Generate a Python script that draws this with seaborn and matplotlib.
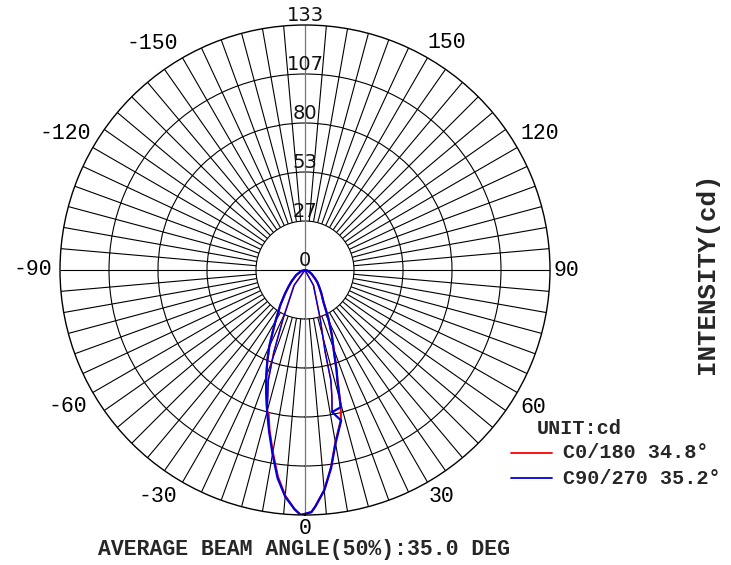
import numpy as np
import matplotlib
matplotlib.use("Agg")
import matplotlib.pyplot as plt
import seaborn as sns
from matplotlib.lines import Line2D

# --- data (angles in degrees, intensity in cd) ---
ring_values = [26.6, 53.2, 79.8, 106.4, 133.0]
ring_labels = ["27", "53", "80", "107", "133"]
angle_labels = [0, 30, 60, 90, 120, 150, -150, -120, -90, -60, -30]

c0_angle = [-90, -75, -60, -50, -45, -40, -35, -30, -27.5, -25, -22.5, -20, -17.5, -15,
            -14.2, -12.5, -10, -7.5, -5, -2.5, -1, 1.5, 2.5, 5, 7.5, 10, 12.5, 13.5, 14.6,
            16.4, 17.5, 19.5, 22.5, 25.8, 30, 35, 40, 45, 50, 60, 75, 90]
c0_cd = [0, 2, 5.5, 9.5, 12.5, 17, 23.5, 32, 38, 46, 53.5, 61.5, 70, 79.5,
         80.5, 89, 100.5, 113, 123, 130, 133, 131.5, 128.5, 120, 108, 95, 86.5, 83.5, 77,
         62.5, 57, 47.1, 38, 29.1, 20, 15.5, 12, 9.5, 7, 4, 1.5, 0]

c90_angle = [-90, -75, -60, -50, -45, -40, -35, -30, -27.5, -25, -22.5, -20, -17.5, -15,
             -12.5, -10, -7.5, -5, -2.5, -1, 1.5, 2.5, 5, 7.5, 10, 12.5, 13.5, 10.8, 14.6,
             16.4, 17.5, 19.5, 22.5, 25.8, 30, 35, 40, 45, 50, 60, 75, 90]
c90_cd = [0, 2, 5.5, 9.5, 12.5, 17, 23.5, 32, 38, 46, 53.5, 61.5, 70, 79.5,
          90, 101.5, 114, 123.5, 130, 133, 131.5, 128.5, 120, 108.5, 95.5, 87, 84, 78.5, 77,
          62.2, 57, 47.1, 38, 29.1, 20, 15.5, 12, 9.5, 7, 4, 1.5, 0]

# inner traces (left and right) for both planes
inner_left_angle = [-35.5, -35.5, -24.2, -20.8, -18.4, -16.5, -15]
c0_inner_left_cd = [0, 10.5, 29.5, 48, 63.5, 71.5, 79.5]
c90_inner_left_cd = [0, 10, 28.8, 47.4, 63, 71, 79.5]
inner_right_angle = [29, 29, 17.3, 13.8, 13.2, 12, 10.8]
c0_inner_right_cd = [0, 9.8, 28, 46.2, 61.8, 70.5, 78.5]
c90_inner_right_cd = [0, 9.3, 27.5, 45.7, 61.3, 70, 78.5]

legend_names = ["C0/180 34.8°", "C90/270 35.2°"]
RED = "#ff0000"
BLUE = "#0000dd"
MONO = "Liberation Mono"

# where the angle labels sit: (direction in deg, distance from centre in px)
label_place = {0: (0, 259), 30: (31.1, 265), 60: (59, 266), 90: (90, 261),
               120: (120.2, 272), 150: (148, 268), -150: (-146, 273),
               -120: (-119.7, 276), -90: (-90, 272), -60: (-60, 274), -30: (-33, 270)}
R_PX = 245.0

sns.set_style("white")

W, H = 731, 565
fig = plt.figure(figsize=(W / 100, H / 100), dpi=100)
ax = fig.add_axes([60 / W, 50 / H, 490 / W, 490 / H], projection="polar")
ax.set_theta_zero_location("S")
ax.set_theta_direction(1)
ax.set_ylim(0, 133)
ax.set_xticks([])
ax.set_yticks(ring_values[:-1])
ax.set_yticklabels([])
ax.yaxis.grid(True, color="black", linewidth=0.8)
ax.xaxis.grid(False)
ax.spines["polar"].set_color("black")
ax.spines["polar"].set_linewidth(1.0)
ax.set_facecolor("white")

# spokes every 5 degrees, starting at the first ring
spokes = np.arange(0, 360, 5)
minor = [a for a in spokes if a % 90 != 0]
ax.vlines(np.deg2rad(minor), ring_values[0], 133, colors="black", linewidth=0.8)
ax.vlines(np.deg2rad([90, 270]), 0, 133, colors="black", linewidth=0.8)
ax.vlines(np.deg2rad([0, 180]), 0, 133, colors="#777777", linewidth=0.9)

# radial labels on the top spoke
ax.text(np.pi, 0, "0", ha="center", va="bottom", fontsize=14, color="#111111",
        family="DejaVu Sans")
for r, lab in zip(ring_values, ring_labels):
    ax.text(np.pi, r, lab, ha="center", va="bottom", fontsize=14, color="#111111",
            family="DejaVu Sans")

# angle labels around the outside
for a in angle_labels:
    th, rho = label_place[a]
    ax.text(np.deg2rad(th), rho / R_PX * 133, str(a), ha="center", va="center",
            fontsize=15.5, family=MONO, color="black", clip_on=False)

# curves
def trace(angles, values, color, lw):
    sns.lineplot(x=np.deg2rad(angles), y=values, ax=ax, sort=False, estimator=None,
                 color=color, linewidth=lw, legend=False)

trace(inner_left_angle, c0_inner_left_cd, RED, 1.0)
trace(inner_right_angle, c0_inner_right_cd, RED, 1.0)
trace(c0_angle, c0_cd, RED, 1.5)
trace(inner_left_angle, c90_inner_left_cd, BLUE, 1.0)
trace(inner_right_angle, c90_inner_right_cd, BLUE, 1.0)
trace(c90_angle, c90_cd, BLUE, 1.6)
ax.set_xlabel("")
ax.set_ylabel("")

# legend block
def fx(x):
    return x / W

def fy(y):
    return 1 - y / H

fig.text(fx(537), fy(428), "UNIT:cd", ha="left", va="center", fontsize=14.5,
         family=MONO, weight="bold")
for i, (name, col) in enumerate(zip(legend_names, [RED, BLUE])):
    yy = 453 + 25 * i
    fig.add_artist(Line2D([fx(511), fx(552)], [fy(yy), fy(yy)], color=col, linewidth=1.3))
    fig.text(fx(563), fy(yy), name, ha="left", va="center", fontsize=14.5,
             family=MONO, weight="bold")

fig.text(fx(304), fy(549), "AVERAGE BEAM ANGLE(50%):35.0 DEG", ha="center", va="center",
         fontsize=15.5, family=MONO, weight="bold")
fig.text(fx(707), fy(273), "INTENSITY(cd)", ha="center", va="center", rotation=90,
         fontsize=18.5, family=MONO, weight="bold")

fig.savefig("out.png", dpi=100, facecolor="white")
